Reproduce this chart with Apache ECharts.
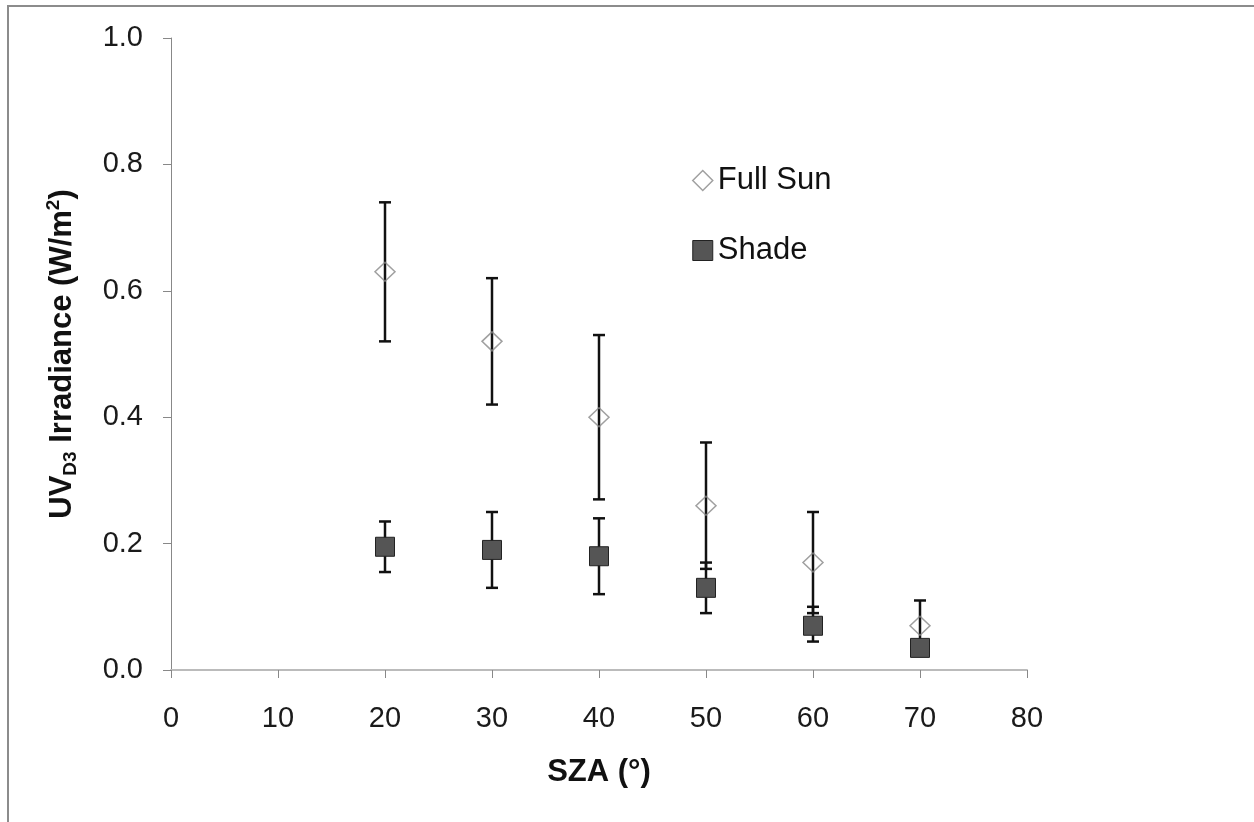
<!DOCTYPE html>
<html>
<head>
<meta charset="utf-8">
<script src="https://cdn.jsdelivr.net/npm/echarts@6/dist/echarts.min.js"></script>
<style>
  html, body { margin: 0; padding: 0; background: #fff; }
  #chart { width: 1254px; height: 822px; }
</style>
</head>
<body>
<div id="chart"></div>
<script>
// data
var sza = [20, 30, 40, 50, 60, 70];
var fullSun = [0.63, 0.52, 0.40, 0.26, 0.17, 0.07];
var fullSunLow = [0.52, 0.42, 0.27, 0.16, 0.09, 0.03];
var fullSunHigh = [0.74, 0.62, 0.53, 0.36, 0.25, 0.11];
var shade = [0.195, 0.19, 0.18, 0.13, 0.07, 0.035];
var shadeLow = [0.155, 0.13, 0.12, 0.09, 0.045, 0.025];
var shadeHigh = [0.235, 0.25, 0.24, 0.17, 0.10, 0.045];
var xTicks = [0, 80, 10];
var yTicks = [0, 1, 0.2];

var font = '"Liberation Sans", Arial, sans-serif';

function pairs(xs, ys) {
  return xs.map(function (x, i) { return [x, ys[i]]; });
}
function triples(xs, lo, hi) {
  return xs.map(function (x, i) { return [x, lo[i], hi[i]]; });
}

//误差线
function renderErr(params, api) {
  var x = api.value(0);
  var lo = api.coord([x, api.value(1)]);
  var hi = api.coord([x, api.value(2)]);
  var w = 6;
  var st = { stroke: '#111', lineWidth: 2.5 };
  return {
    type: 'group',
    children: [
      { type: 'line', shape: { x1: lo[0], y1: lo[1], x2: hi[0], y2: hi[1] }, style: st },
      { type: 'line', shape: { x1: lo[0] - w, y1: lo[1], x2: lo[0] + w, y2: lo[1] }, style: st },
      { type: 'line', shape: { x1: hi[0] - w, y1: hi[1], x2: hi[0] + w, y2: hi[1] }, style: st }
    ]
  };
}

var myChart = echarts.init(document.getElementById('chart'));
var options = {
  backgroundColor: '#fff',
  animation: false,
  textStyle: { fontFamily: font },
  graphic: [{
    type: 'rect',
    shape: { x: 8, y: 6, width: 1400, height: 1000 },
    style: { fill: 'none', stroke: '#8c8c8c', lineWidth: 2 },
    silent: true
  }],
  grid: { left: 171, right: 227, top: 38, bottom: 152 },
  legend: {
    orient: 'vertical',
    left: 687,
    top: 160,
    itemWidth: 20,
    itemHeight: 20,
    itemGap: 39,
    textStyle: { fontFamily: font, fontSize: 31, color: '#111', lineHeight: 30 },
    data: [
      { name: 'Full Sun', icon: 'diamond', itemStyle: { color: 'rgba(255,255,255,0)', borderColor: '#888', borderWidth: 1.5 } },
      { name: 'Shade', icon: 'rect', itemStyle: { color: '#555', borderColor: '#222', borderWidth: 1 } }
    ]
  },
  xAxis: {
    type: 'value',
    min: xTicks[0], max: xTicks[1], interval: xTicks[2],
    name: 'SZA (°)',
    nameLocation: 'middle',
    nameGap: 87,
    nameTextStyle: { fontFamily: font, fontSize: 31, fontWeight: 'bold', color: '#111' },
    axisLine: { lineStyle: { color: '#bbb', width: 2 } },
    axisTick: { length: 8, lineStyle: { color: '#888' } },
    axisLabel: { margin: 34, fontSize: 29, color: '#1a1a1a', fontFamily: font },
    splitLine: { show: false }
  },
  yAxis: {
    type: 'value',
    min: yTicks[0], max: yTicks[1], interval: yTicks[2],
    name: '{a|UV}{sub|D3}{a| Irradiance (W/m}{sup|2}{a|)}',
    nameLocation: 'middle',
    nameRotate: 90,
    nameGap: 91,
    nameTextStyle: {
      rich: {
        a: { fontFamily: font, fontSize: 31, fontWeight: 'bold', color: '#111', lineHeight: 36, verticalAlign: 'middle' },
        sub: { fontFamily: font, fontSize: 19, fontWeight: 'bold', color: '#111', lineHeight: 19, verticalAlign: 'bottom' },
        sup: { fontFamily: font, fontSize: 19, fontWeight: 'bold', color: '#111', lineHeight: 19, verticalAlign: 'top' }
      }
    },
    axisLine: { show: true, lineStyle: { color: '#888', width: 1 } },
    axisTick: { show: true, length: 8, lineStyle: { color: '#888' } },
    axisLabel: {
      margin: 28, fontSize: 29, color: '#1a1a1a', fontFamily: font,
      formatter: function (v) { return v.toFixed(1); }
    },
    splitLine: { show: false }
  },
  series: [
    {
      name: 'Full Sun err',
      type: 'custom',
      renderItem: renderErr,
      encode: { x: 0, y: [1, 2] },
      data: triples(sza, fullSunLow, fullSunHigh),
      z: 1
    },
    {
      name: 'Full Sun',
      type: 'scatter',
      symbol: 'diamond',
      symbolSize: [20, 19],
      itemStyle: { color: 'rgba(255,255,255,0)', borderColor: '#888', borderWidth: 1.5 },
      data: pairs(sza, fullSun),
      z: 2
    },
    {
      name: 'Shade err',
      type: 'custom',
      renderItem: renderErr,
      encode: { x: 0, y: [1, 2] },
      data: triples(sza, shadeLow, shadeHigh),
      z: 3
    },
    {
      name: 'Shade',
      type: 'scatter',
      symbol: 'rect',
      symbolSize: 19,
      itemStyle: { color: '#555', borderColor: '#222', borderWidth: 1, opacity: 1 },
      data: pairs(sza, shade),
      z: 4
    }
  ]
};
myChart.setOption(options, true);
</script>
</body>
</html>
